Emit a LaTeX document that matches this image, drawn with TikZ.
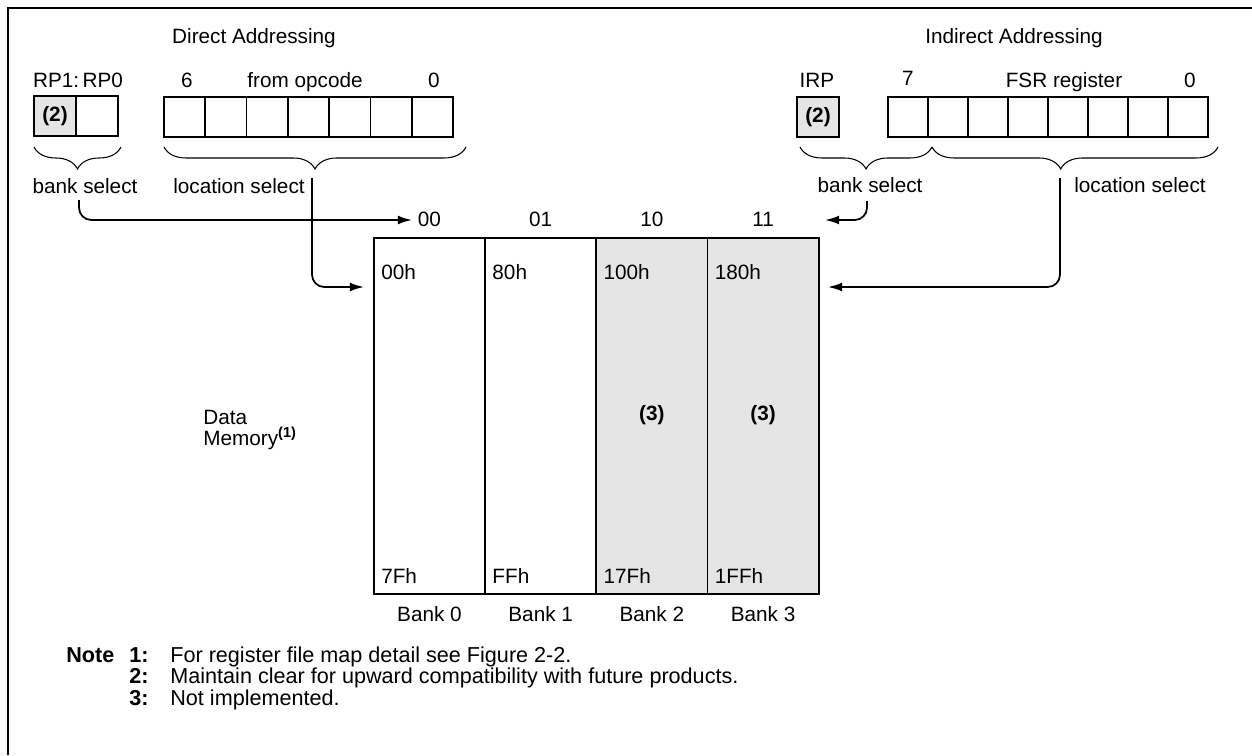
\documentclass[tikz,border=0pt]{standalone}
\usepackage{fontspec}
\setmainfont{Liberation Sans}
\usetikzlibrary{arrows.meta}
\usetikzlibrary{decorations.pathreplacing}

\begin{document}
\begin{tikzpicture}[x=0.02cm,y=-0.02cm,>={Latex[length=8pt,width=5pt]},
        font=\fontsize{11.8}{14}\selectfont,
        txt/.style={inner sep=0pt,anchor=base},
        txtl/.style={inner sep=0pt,anchor=base west},
        note/.style={txtl,font=\fontsize{12.3}{14}\selectfont},
        cell/.style={draw,line width=1pt},
        resv/.style={cell,fill=black!10},
        brc/.style={decorate,decoration={brace,mirror,amplitude=12.5pt},line width=0.6pt},
        conn/.style={->,line width=1pt,rounded corners=7pt}]
        \def\opW{41.3}
        \def\fsrW{40}
        \def\colW{111.2}
        \useasboundingbox (0,0) rectangle (1252,755);
        \draw[line width=1.2pt] (8,755) -- (8,8) -- (1252,8);

        % direct addressing
        \node[txt] (dirHead) at (254,43) {Direct Addressing};
        \node[txt] (rpLbl) at (78,87) {RP1:\,RP0};
        \node[txt] (opHi) at (187,87) {6};
        \node[txt] (opLbl) at (305,87) {from opcode};
        \node[txt] (opLo) at (434,87) {0};
        \draw[resv] (34,96) rectangle (76,136);
        \draw[cell] (76,96) rectangle (118,136);
        \node (rpNote) at (55,116) {\textbf{(2)}};
        \foreach \i in {0,...,6}
            \draw[cell] ({164+\i*\opW},97) rectangle ++(\opW,40);
        \draw[brc] (34,147) -- (121,147);
        \draw[brc] (164,147) -- (466,147);
        \node[txt] (bankSelL) at (85,193) {bank select};
        \node[txt] (locSelL) at (239,193) {location select};

        % indirect addressing
        \node[txt] (indHead) at (1014,43) {Indirect Addressing};
        \node[txt] (irpLbl) at (817,87) {IRP};
        \node[txt] (fsrHi) at (908,85) {7};
        \node[txt] (fsrLbl) at (1064,87) {FSR register};
        \node[txt] (fsrLo) at (1190,87) {0};
        \draw[resv] (797,97) rectangle (839,137);
        \node (irpNote) at (818,117) {\textbf{(2)}};
        \foreach \i in {0,...,7}
            \draw[cell] ({888+\i*\fsrW},97) rectangle ++(\fsrW,40);
        \draw[brc] (800,147) -- (932,147);
        \draw[brc,decoration={aspect=0.45}] (932,147) -- (1218,147);
        \node[txt] (bankSelR) at (870,192) {bank select};
        \node[txt] (locSelR) at (1140,192) {location select};

        % data memory banks
        \coordinate (selRow) at (0,226);
        \foreach \i/\f/\sel/\lo/\hi in {0/white/00/00h/7Fh,1/white/01/80h/FFh,2/black!10/10/100h/17Fh,3/black!10/11/180h/1FFh} {
            \node[cell,fill=\f,anchor=north west,minimum width=2.224cm,minimum height=7.12cm] (bank\i) at ({373+\i*\colW},237) {};
            \node[txt] (sel\i) at (bank\i.north |- selRow) {\sel};
            \node[txtl] (lo\i) at ([xshift=4.5pt,yshift=-24pt]bank\i.north west) {\lo};
            \node[txtl] (hi\i) at ([xshift=4.5pt,yshift=6.2pt]bank\i.south west) {\hi};
            \node[txt] (bankLbl\i) at ([yshift=-15.3pt]bank\i.south) {Bank \i};
        }
        \node[txt] (nimp2) at ([yshift=-2.8pt]bank2.center) {\textbf{(3)}};
        \node[txt] (nimp3) at ([yshift=-2.8pt]bank3.center) {\textbf{(3)}};
        \node[txtl] (dataLbl) at (203,424) {Data};
        \node[txtl] (memLbl) at (203,445) {Memory\textsuperscript{\bfseries(1)}};

        % connectors
        \coordinate (bankSrcL) at (79,200);
        \coordinate (bankSrcR) at (867,201);
        \coordinate (locSrcL) at (312,178);
        \coordinate (locSrcR) at (1060,178);
        \coordinate (selIn) at (412,220);
        \coordinate (selInR) at (825,220);
        \coordinate (locIn) at (364,287);
        \coordinate (locInR) at (828,287);
        \draw[conn] (bankSrcL) |- (selIn);
        \draw[conn] (bankSrcR) |- (selInR);
        \draw[conn] (locSrcL) |- (locIn);
        \draw[conn] (locSrcR) |- (locInR);

        % notes
        \node[note] (noteHd) at (66,662) {\textbf{Note}};
        \node[note] (noteN1) at (129,662) {\textbf{1:}};
        \node[note] (noteT1) at (170,662) {For register file map detail see Figure 2-2.};
        \node[note] (noteN2) at (129,683) {\textbf{2:}};
        \node[note] (noteT2) at (170,683) {Maintain clear for upward compatibility with future products.};
        \node[note] (noteN3) at (129,705) {\textbf{3:}};
        \node[note] (noteT3) at (170,705) {Not implemented.};
\end{tikzpicture}
\end{document}
